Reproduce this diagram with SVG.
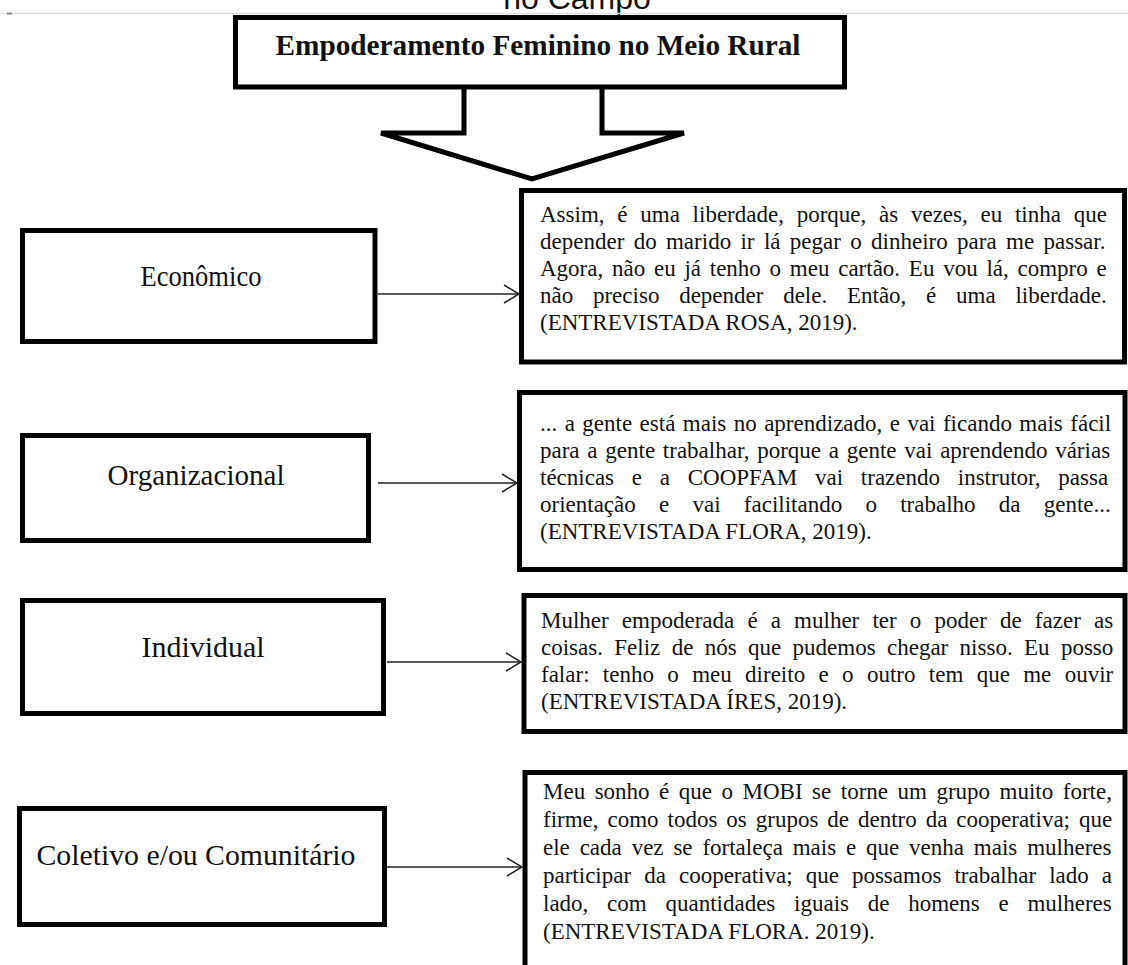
<svg xmlns="http://www.w3.org/2000/svg" width="1128" height="965" viewBox="0 0 1128 965">
  <defs>
    <marker id="chev" markerUnits="userSpaceOnUse" markerWidth="20" markerHeight="24" refX="16" refY="10" orient="auto">
      <path d="M1,1 L16,10 L1,19" fill="none" stroke="#222" stroke-width="1.5"/>
    </marker>
  </defs>
  <style>
    .box { fill: #fff; stroke: #000; stroke-width: 5; }
    .label { font-family: "Liberation Serif", "Times New Roman", serif; font-size: 29px; fill: #111; text-anchor: middle; }
    .quote { font-family: "Liberation Serif", "Times New Roman", serif; font-size: 23px; fill: #111; }
    .title { font-family: "Liberation Serif", "Times New Roman", serif; font-size: 29px; font-weight: bold; fill: #111; text-anchor: middle; }
    .link { stroke: #222; stroke-width: 1.5; fill: none; marker-end: url(#chev); }
  </style>

  <rect width="1128" height="965" fill="#fff"/>

  <!-- page header remnant -->
  <text x="577" y="9" font-family="Liberation Sans, Arial, sans-serif" font-size="32" fill="#111" text-anchor="middle">no Campo</text>
  <line x1="0" y1="13.5" x2="1128" y2="13.5" stroke="#dcdcdc" stroke-width="1.5"/>
  <line x1="7" y1="13.5" x2="12" y2="13.5" stroke="#888" stroke-width="2"/>

  <!-- block arrow, drawn first so the title box border closes its top -->
  <g id="down-arrow">
    <polygon points="464,86 464,133 381,133 532,179 684,133 602,133 602,86" fill="#fff" stroke="#000" stroke-width="5" stroke-linejoin="miter"/>
  </g>

  <!-- title -->
  <g id="title">
    <rect class="box" x="235.5" y="17.5" width="609" height="69.5"/>
    <text class="title" x="538" y="55" textLength="525" lengthAdjust="spacingAndGlyphs">Empoderamento Feminino no Meio Rural</text>
  </g>

  <!-- dimension boxes -->
  <g id="economico">
    <rect class="box" x="22.5" y="230.5" width="352.5" height="111"/>
    <text class="label" x="201" y="286" textLength="121" lengthAdjust="spacingAndGlyphs">Econômico</text>
  </g>
  <g id="organizacional">
    <rect class="box" x="22.5" y="435.5" width="346" height="105"/>
    <text class="label" x="196" y="485" textLength="177" lengthAdjust="spacingAndGlyphs">Organizacional</text>
  </g>
  <g id="individual">
    <rect class="box" x="22.5" y="600.5" width="361" height="113"/>
    <text class="label" x="203" y="657" textLength="123" lengthAdjust="spacingAndGlyphs">Individual</text>
  </g>
  <g id="coletivo">
    <rect class="box" x="19.5" y="808.5" width="365" height="116"/>
    <text class="label" x="196" y="865" textLength="319" lengthAdjust="spacingAndGlyphs">Coletivo e/ou Comunitário</text>
  </g>

  <!-- quotations: justified lines spread through word spacing -->
  <g id="quote-rosa">
    <rect class="box" x="521.5" y="190.5" width="603" height="171.5"/>
    <text class="quote">
      <tspan x="540" y="222" word-spacing="7">Assim, é uma liberdade, porque, às vezes, eu tinha que</tspan>
      <tspan x="540" y="249" word-spacing="3.6">depender do marido ir lá pegar o dinheiro para me passar.</tspan>
      <tspan x="540" y="276" word-spacing="3">Agora, não eu já tenho o meu cartão. Eu vou lá, compro e</tspan>
      <tspan x="540" y="303" word-spacing="14">não preciso depender dele. Então, é uma liberdade.</tspan>
      <tspan x="540" y="330">(ENTREVISTADA ROSA, 2019).</tspan>
    </text>
  </g>
  <g id="quote-flora-1">
    <rect class="box" x="519.5" y="392.5" width="605.5" height="177"/>
    <text class="quote">
      <tspan x="540" y="431" word-spacing="1.7">... a gente está mais no aprendizado, e vai ficando mais fácil</tspan>
      <tspan x="540" y="458" word-spacing="2">para a gente trabalhar, porque a gente vai aprendendo várias</tspan>
      <tspan x="540" y="485" word-spacing="12">técnicas e a COOPFAM vai trazendo instrutor, passa</tspan>
      <tspan x="540" y="512" word-spacing="17.5">orientação e vai facilitando o trabalho da gente...</tspan>
      <tspan x="540" y="539">(ENTREVISTADA FLORA, 2019).</tspan>
    </text>
  </g>
  <g id="quote-ires">
    <rect class="box" x="524" y="595.5" width="601" height="136"/>
    <text class="quote">
      <tspan x="541" y="628" word-spacing="7.4">Mulher empoderada é a mulher ter o poder de fazer as</tspan>
      <tspan x="541" y="655" word-spacing="5.6">coisas. Feliz de nós que pudemos chegar nisso. Eu posso</tspan>
      <tspan x="541" y="682" word-spacing="7.6">falar: tenho o meu direito e o outro tem que me ouvir</tspan>
      <tspan x="541" y="709">(ENTREVISTADA ÍRES, 2019).</tspan>
    </text>
  </g>
  <g id="quote-flora-2">
    <rect class="box" x="525" y="772.5" width="600" height="210"/>
    <text class="quote">
      <tspan x="543" y="799" word-spacing="3.75">Meu sonho é que o MOBI se torne um grupo muito forte,</tspan>
      <tspan x="543" y="827" word-spacing="3.2">firme, como todos os grupos de dentro da cooperativa; que</tspan>
      <tspan x="543" y="855" word-spacing="4.1">ele cada vez se fortaleça mais e que venha mais mulheres</tspan>
      <tspan x="543" y="883" word-spacing="7.3">participar da cooperativa; que possamos trabalhar lado a</tspan>
      <tspan x="543" y="911" word-spacing="13">lado, com quantidades iguais de homens e mulheres</tspan>
      <tspan x="543" y="939">(ENTREVISTADA FLORA. 2019).</tspan>
    </text>
  </g>

  <!-- connectors -->
  <g id="connectors">
    <line class="link" x1="378" y1="294" x2="519" y2="294"/>
    <line class="link" x1="378" y1="483" x2="517" y2="483"/>
    <line class="link" x1="387" y1="662" x2="521" y2="662"/>
    <line class="link" x1="387" y1="867" x2="522" y2="867"/>
  </g>
</svg>
